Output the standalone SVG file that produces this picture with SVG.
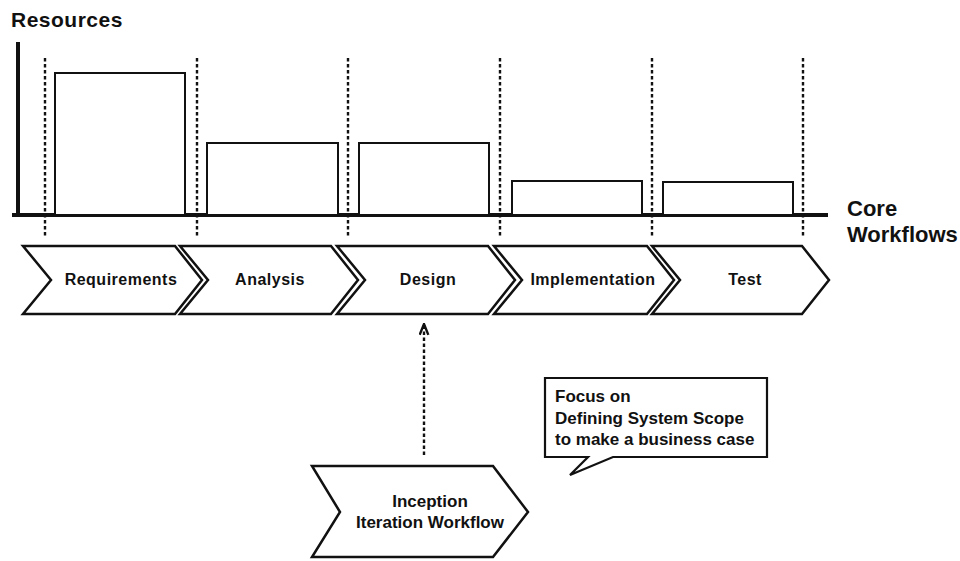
<svg xmlns="http://www.w3.org/2000/svg" width="960" height="561" viewBox="0 0 960 561">
<defs>
<style>
.t{font-family:"Liberation Sans",Arial,sans-serif;font-weight:bold;fill:#111;}
.lbl{font-size:16px;letter-spacing:0.5px;text-anchor:middle;}
.chev{fill:#fff;stroke:#111;stroke-width:2.5;stroke-linejoin:miter;}
.bar{fill:#fff;stroke:#111;stroke-width:2;}
.axis{stroke:#111;stroke-width:4;fill:none;}
.grid{stroke:#111;stroke-width:2.4;stroke-dasharray:3.5 2.5;fill:none;}
.dash{stroke:#111;stroke-width:2.4;stroke-dasharray:3.5 2.5;fill:none;}
</style>
<marker id="ah" viewBox="0 0 12 10" refX="11" refY="5" markerWidth="13" markerHeight="11" markerUnits="userSpaceOnUse" orient="auto">
<path d="M1,1 L11,5 L1,9" fill="none" stroke="#111" stroke-width="2.2" stroke-linejoin="miter"/>
</marker>
</defs>
<rect width="960" height="561" fill="#fff"/>

<g id="chart">
<text class="t" x="11" y="27" font-size="21" letter-spacing="0.5">Resources</text>
<line class="axis" x1="18" y1="42" x2="18" y2="217"/>
<line class="axis" x1="12" y1="215" x2="828" y2="215"/>
<g id="gridlines">
<line class="grid" x1="45" y1="58" x2="45" y2="238"/>
<line class="grid" x1="197" y1="58" x2="197" y2="238"/>
<line class="grid" x1="348" y1="58" x2="348" y2="238"/>
<line class="grid" x1="500" y1="58" x2="500" y2="238"/>
<line class="grid" x1="652" y1="58" x2="652" y2="238"/>
<line class="grid" x1="803" y1="58" x2="803" y2="238"/>
</g>
<rect class="bar" x="55" y="73" width="130" height="142"/>
<rect class="bar" x="207" y="143" width="131" height="72"/>
<rect class="bar" x="359" y="143" width="130" height="72"/>
<rect class="bar" x="512" y="181" width="130" height="34"/>
<rect class="bar" x="663" y="182" width="130" height="33"/>
<text class="t" x="847" y="216" font-size="22">Core</text>
<text class="t" x="847" y="242" font-size="22">Workflows</text>
</g>

<g id="requirements">
<polygon class="chev" points="23,246 175,246 202,280 175,314 23,314 51,280"/>
<text class="t lbl" x="121" y="285">Requirements</text>
</g>
<g id="analysis">
<polygon class="chev" points="180,246 331,246 358,280 331,314 180,314 208,280"/>
<text class="t lbl" x="270" y="285">Analysis</text>
</g>
<g id="design">
<polygon class="chev" points="337,246 488,246 515,280 488,314 337,314 365,280"/>
<text class="t lbl" x="428" y="285">Design</text>
</g>
<g id="implementation">
<polygon class="chev" points="494,246 647,246 674,280 647,314 494,314 522,280"/>
<text class="t lbl" x="593" y="285">Implementation</text>
</g>
<g id="test">
<polygon class="chev" points="652,246 802,246 829,280 802,314 652,314 680,280"/>
<text class="t lbl" x="745" y="285">Test</text>
</g>

<g id="inception">
<polygon class="chev" points="312,466 493,466 528,512 493,557 312,557 340,512"/>
<text class="t" x="430" y="507" font-size="17" text-anchor="middle">Inception</text>
<text class="t" x="430" y="528" font-size="17" text-anchor="middle">Iteration Workflow</text>
</g>

<g id="callout">
<path d="M545,378 L767,378 L767,457 L613,457 L570,475 L588,457 L545,457 Z" fill="#fff" stroke="#111" stroke-width="2.2" stroke-linejoin="miter"/>
<text class="t" x="555" y="402" font-size="17">Focus on</text>
<text class="t" x="555" y="424" font-size="17">Defining System Scope</text>
<text class="t" x="555" y="445" font-size="17">to make a business case</text>
</g>

<g id="connectors">
<line class="dash" x1="424" y1="455" x2="424" y2="324" marker-end="url(#ah)"/>
</g>
</svg>
